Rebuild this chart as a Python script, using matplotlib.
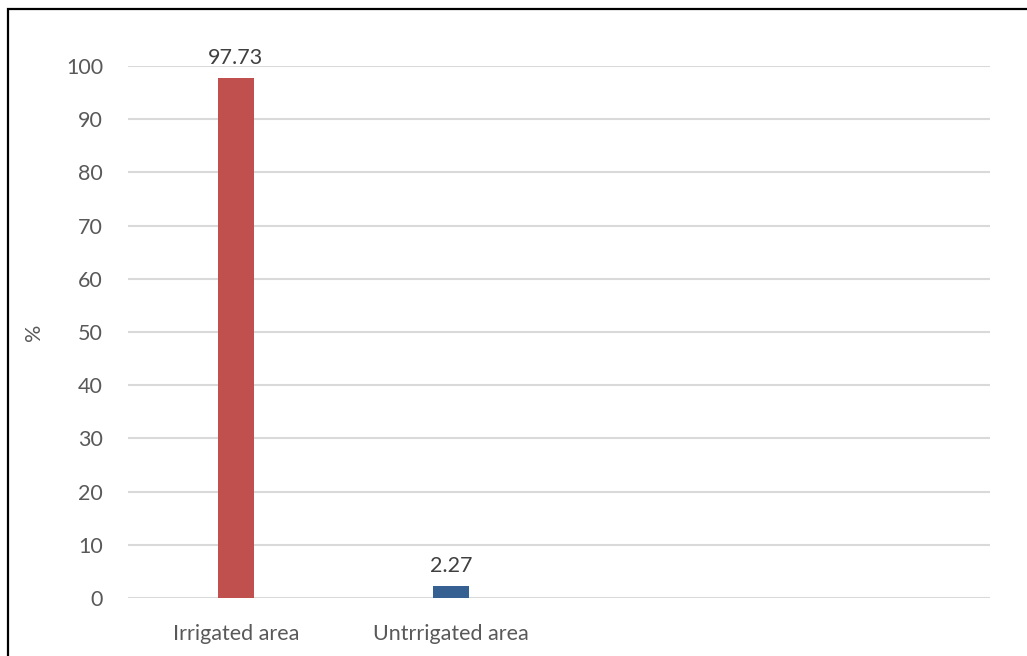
import matplotlib.pyplot as plt
from matplotlib.patches import Rectangle

# Data
categories = ["Irrigated area", "Untrrigated area", "", ""]
values = [97.73, 2.27]
bar_colors = ["#C0504D", "#366092"]
yticks = list(range(0, 101, 10))

plt.rcParams['font.family'] = ['Lato', 'DejaVu Sans']
text_color = "#595959"
fs = 15.5

fig = plt.figure(figsize=(10.27, 6.56), dpi=100)
ax = fig.add_axes([128 / 1027, 1 - 598 / 656, (990 - 128) / 1027, (598 - 66) / 656])

x = list(range(len(values)))
bars = ax.bar(x, values, width=36 / 216, color=bar_colors, zorder=3)

# value labels
for b, v in zip(bars, values):
    ax.annotate(f"{v:.2f}", (b.get_x() + b.get_width() / 2, v),
                xytext=(0, 7), textcoords="offset points",
                ha="center", va="bottom", fontsize=fs, color="#404040")

ax.set_xlim(-0.5, len(categories) - 0.5)
ax.set_ylim(0, 100)
ax.set_xticks(range(len(categories)))
ax.set_xticklabels(categories)
ax.set_yticks(yticks)

ax.grid(axis="y", color="#D9D9D9", linewidth=1.5, zorder=0)
ax.set_axisbelow(True)
for s in ax.spines.values():
    s.set_visible(False)
ax.tick_params(axis="both", length=0, labelsize=fs, labelcolor=text_color)
ax.tick_params(axis="y", pad=18)
ax.tick_params(axis="x", pad=19)

ax.set_ylabel("%", fontsize=fs, color=text_color, labelpad=16)

# outer frame (left and top visible)
fig.patches.append(Rectangle((8 / 1027, -0.1), 1.2, 1.1 - 9 / 656,
                             transform=fig.transFigure, fill=False,
                             edgecolor="black", linewidth=1.6))

fig.savefig("out.png", dpi=100)
